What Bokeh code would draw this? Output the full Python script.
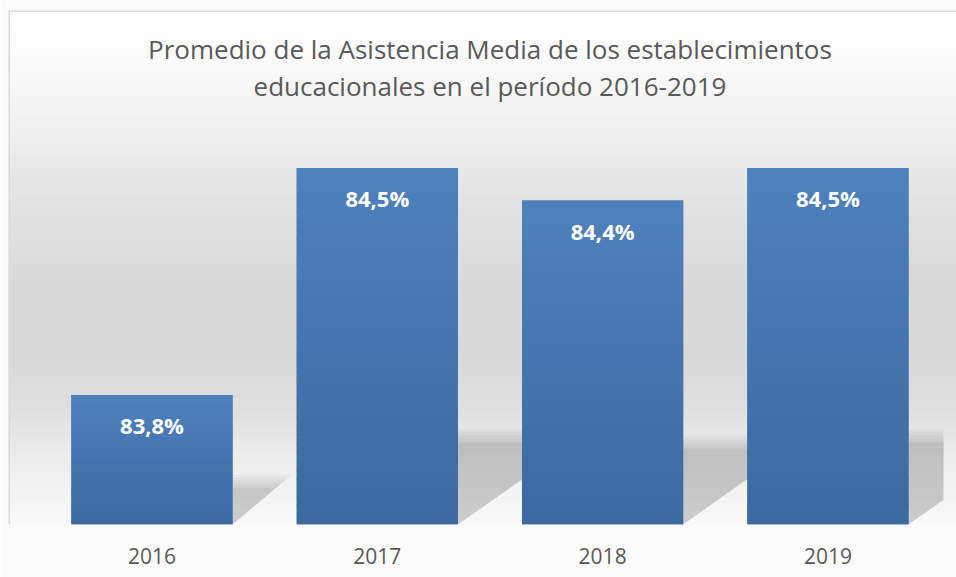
from bokeh.plotting import figure
from bokeh.models import (ColumnDataSource, LabelSet, Label, Range1d, FixedTicker,
                          Span)
from bokeh.core.properties import value
from bokeh.embed import file_html
from bokeh.resources import INLINE

# ---- data ----
years = ["2016", "2017", "2018", "2019"]
attendance = [83.8, 84.5, 84.4, 84.5]
title_line1 = "Promedio de la Asistencia Media de los establecimientos"
title_line2 = "educacionales en el período 2016-2019"

labels = [f"{v:.1f}".replace(".", ",") + "%" for v in attendance]
x_pos = [i + 0.5 for i in range(len(years))]   # category slots

# ---- layout constants (page pixels) ----
FRAME_LEFT, FRAME_RIGHT = 8, 956
FRAME_TOP, FRAME_BOTTOM = 10, 524
CAT_PX = 225.33                 # pixels per category slot
SLOT0_PX = 38.8                 # page x of the left edge of the first slot
Y_MIN = 83.4
PX = 324.0                      # pixels per percentage point
FRAME_W = FRAME_RIGHT - FRAME_LEFT
FRAME_H = FRAME_BOTTOM - FRAME_TOP
Y_MAX = Y_MIN + FRAME_H / PX
X_MIN = (FRAME_LEFT - SLOT0_PX) / CAT_PX
X_MAX = (FRAME_RIGHT - SLOT0_PX) / CAT_PX
BAR_W = 0.715
FONT = "Open Sans"
TXT = "#595959"


def page_to_val(py):
    return Y_MIN + (FRAME_BOTTOM - py) / PX


def page_to_x(px):
    return (px - SLOT0_PX) / CAT_PX


p = figure(x_range=Range1d(X_MIN, X_MAX), y_range=Range1d(Y_MIN, Y_MAX),
           frame_width=FRAME_W, frame_height=FRAME_H,
           min_border_left=FRAME_LEFT, min_border_right=0,
           min_border_top=FRAME_TOP, min_border_bottom=577 - FRAME_BOTTOM,
           output_backend="svg", toolbar_location=None)

p.border_fill_color = "#FBFBFB"
p.background_fill_color = "#F6F6F6"
p.outline_line_color = None
p.xgrid.grid_line_color = None
p.ygrid.grid_line_color = None
p.yaxis.visible = False

# ---- background gradient (style only) ----
stops = [(10, 0xFF), (60, 0xFA), (100, 0xF5), (200, 0xE3), (280, 0xD9),
         (360, 0xD9), (410, 0xDF), (440, 0xE8), (470, 0xEF), (500, 0xF5),
         (524, 0xF9)]


def gray_at(py):
    for (y0, g0), (y1, g1) in zip(stops[:-1], stops[1:]):
        if y0 <= py <= y1:
            t = (py - y0) / (y1 - y0)
            return int(round(g0 + (g1 - g0) * t))
    return stops[-1][1]


bg_b, bg_t, bg_c = [], [], []
py = FRAME_TOP
while py < FRAME_BOTTOM:
    g = gray_at(py + 1.5)
    bg_t.append(page_to_val(py))
    bg_b.append(page_to_val(py + 3.6))
    bg_c.append("#%02x%02x%02x" % (g, g, g))
    py += 3
p.quad(left=X_MIN, right=X_MAX, bottom=bg_b, top=bg_t, fill_color=bg_c,
       line_color=None)

# ---- soft shadows cast by bars ----
X_CAP = page_to_x(943)
for grow in [14, 11, 8, 5, 2, 0]:
    xs, ys = [], []
    for xc, v in zip(x_pos, attendance):
        h = (v - Y_MIN) * PX
        sh = (0.2 * h + 10 + grow) / PX
        D = (0.33 * h + grow * 1.2) / CAT_PX
        R = xc + BAR_W / 2
        top = Y_MIN + sh
        if R + D <= X_CAP:
            xs.append([R, R, R + D])
            ys.append([Y_MIN, top, top])
        else:
            y_cap = Y_MIN + sh * (X_CAP - R) / D
            xs.append([R, R, X_CAP, X_CAP])
            ys.append([Y_MIN, top, top, y_cap])
    p.patches(xs=xs, ys=ys, fill_color="black", fill_alpha=0.03, line_color=None)

# ---- bars (base + vertical gradient slices) ----
p.vbar(x=x_pos, top=attendance, bottom=Y_MIN, width=BAR_W,
       fill_color="#3C69A0", line_color=None)

N = 40
c_bot = (0x3C, 0x69, 0xA0)
c_top = (0x4F, 0x81, 0xBD)
sx, sb, st, sc = [], [], [], []
for xc, v in zip(x_pos, attendance):
    for j in range(N):
        f = (j + 0.5) / N
        col = tuple(int(round(a + (b - a) * f)) for a, b in zip(c_bot, c_top))
        sx.append(xc)
        sb.append(Y_MIN + (v - Y_MIN) * j / N)
        st.append(Y_MIN + (v - Y_MIN) * min(1.0, (j + 1.15) / N))
        sc.append("#%02x%02x%02x" % col)
p.vbar(x=sx, bottom=sb, top=st, width=BAR_W, fill_color=sc, line_color=None)

# ---- data labels ----
src = ColumnDataSource(dict(x=x_pos, y=attendance, t=labels))
p.add_layout(LabelSet(x="x", y="y", text="t", source=src, y_offset=-30,
                      text_align="center", text_baseline="middle",
                      text_color="white", text_font=value(FONT),
                      text_font_size="22px", text_font_style="bold"))

# ---- chart border (top and left, as in the reference) ----
p.add_layout(Span(location=X_MIN, dimension="height", line_color="#D9D9D9",
                  line_width=3))
p.add_layout(Span(location=Y_MAX, dimension="width", line_color="#D9D9D9",
                  line_width=3))

# ---- title (two centred lines) ----
x_mid = sum(x_pos) / len(x_pos)
for line, ypage in [(title_line1, 48), (title_line2, 85)]:
    p.add_layout(Label(x=x_mid, y=page_to_val(ypage), text=line,
                       text_align="center", text_baseline="middle",
                       text_font=FONT, text_font_size="26px",
                       text_color=TXT))

# ---- x axis ----
ax = p.xaxis[0]
ax.ticker = FixedTicker(ticks=x_pos)
ax.major_label_overrides = {x: y for x, y in zip(x_pos, years)}
ax.axis_line_color = None
ax.major_tick_line_color = None
ax.minor_tick_line_color = None
ax.major_label_text_font = FONT
ax.major_label_text_font_size = "21px"
ax.major_label_text_color = TXT
ax.major_label_standoff = 17

open("out.html", "w").write(file_html(p, INLINE))
